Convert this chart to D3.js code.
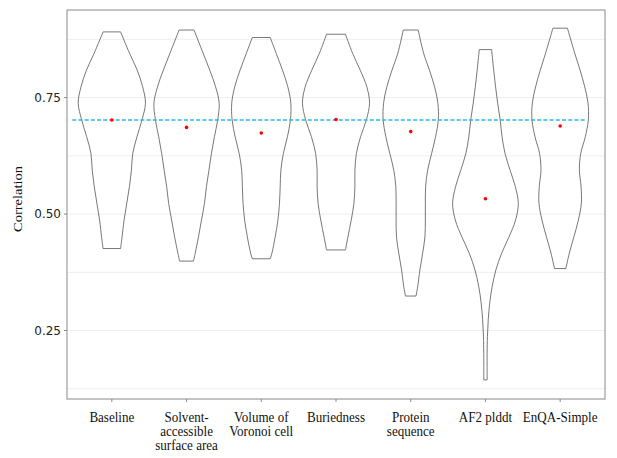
<!DOCTYPE html>
<html lang="en">
<head>
  <meta charset="utf-8">
  <title>Correlation violins</title>
  <script src="https://d3js.org/d3.v7.min.js"></script>
  <style>
    body { margin: 0; background: #fff; }
    .grid line { stroke: #efefef; stroke-width: 1; }
    .violin { fill: none; stroke: #555; stroke-width: 0.8; }
    .tick-label { font-family: "DejaVu Sans", sans-serif; font-size: 12px; fill: #222; }
    .cat-label { font-family: "Liberation Serif", serif; font-size: 14.5px; fill: #111; }
  </style>
</head>
<body>
  <script>
    // categories and their (wrapped) labels
    var categories = ["Baseline", "Solvent-accessible surface area", "Volume of Voronoi cell",
                      "Buriedness", "Protein sequence", "AF2 plddt", "EnQA-Simple"];
    var labelLines = [["Baseline"], ["Solvent-", "accessible", "surface area"], ["Volume of", "Voronoi cell"],
                      ["Buriedness"], ["Protein", "sequence"], ["AF2 plddt"], ["EnQA-Simple"]];

    // mean correlation per category (red dots) and baseline reference (dashed line)
    var means = [0.702, 0.686, 0.674, 0.703, 0.677, 0.533, 0.689];
    var refValue = 0.702;

    var yTicks = [0.25, 0.50, 0.75];
    var yMinor = [0.125, 0.375, 0.625, 0.875];

    // violin outlines: correlation level -> relative density
    var baselineCorr = [0.891, 0.845, 0.809, 0.773, 0.738, 0.702, 0.666, 0.630, 0.594, 0.559, 0.523, 0.487, 0.451, 0.426];
    var baselineDens = [0.88, 1.78, 2.55, 3.10, 3.38, 3.03, 2.53, 2.10, 1.97, 1.77, 1.50, 1.23, 1.03, 0.88];

    var solventCorr = [0.895, 0.845, 0.809, 0.773, 0.738, 0.702, 0.666, 0.630, 0.594, 0.559, 0.523, 0.487, 0.451, 0.416, 0.399];
    var solventDens = [0.75, 1.67, 2.33, 2.92, 3.28, 3.13, 2.80, 2.50, 2.25, 2.00, 1.80, 1.50, 1.20, 0.87, 0.70];

    var voronoiCorr = [0.879, 0.845, 0.809, 0.773, 0.738, 0.702, 0.666, 0.630, 0.594, 0.559, 0.523, 0.487, 0.451, 0.416, 0.404];
    var voronoiDens = [0.90, 1.50, 2.13, 2.67, 2.97, 2.93, 2.63, 2.22, 1.97, 1.90, 1.83, 1.67, 1.40, 1.07, 0.90];

    var buriedCorr = [0.886, 0.845, 0.809, 0.773, 0.738, 0.702, 0.666, 0.630, 0.594, 0.559, 0.523, 0.487, 0.451, 0.423];
    var buriedDens = [0.95, 1.67, 2.43, 3.10, 3.37, 3.05, 2.47, 2.05, 1.90, 1.90, 1.80, 1.53, 1.20, 0.95];

    var proteinCorr = [0.895, 0.845, 0.809, 0.773, 0.738, 0.702, 0.666, 0.630, 0.594, 0.559, 0.523, 0.487, 0.451, 0.416, 0.380, 0.344, 0.324];
    var proteinDens = [0.75, 1.30, 1.88, 2.40, 2.73, 2.77, 2.50, 2.10, 1.70, 1.50, 1.47, 1.47, 1.43, 1.20, 0.92, 0.70, 0.53];

    var af2Corr = [0.853, 0.809, 0.773, 0.738, 0.702, 0.666, 0.630, 0.594, 0.559, 0.523, 0.487, 0.451, 0.416, 0.380, 0.344, 0.309, 0.273, 0.237, 0.201, 0.144];
    var af2Dens = [0.62, 0.83, 1.02, 1.23, 1.48, 1.67, 1.97, 2.48, 3.00, 3.30, 3.03, 2.37, 1.63, 1.05, 0.67, 0.43, 0.28, 0.20, 0.17, 0.17];

    var enqaCorr = [0.899, 0.845, 0.809, 0.773, 0.738, 0.702, 0.666, 0.630, 0.594, 0.559, 0.523, 0.487, 0.451, 0.416, 0.383];
    var enqaDens = [0.73, 1.47, 2.00, 2.47, 2.80, 2.83, 2.53, 2.07, 1.93, 2.10, 2.13, 1.83, 1.38, 0.92, 0.57];

    var violinCorr = [baselineCorr, solventCorr, voronoiCorr, buriedCorr, proteinCorr, af2Corr, enqaCorr];
    var violinDens = [baselineDens, solventDens, voronoiDens, buriedDens, proteinDens, af2Dens, enqaDens];

    var width = 617, height = 458;
    var panel = { left: 67, right: 605, top: 10, bottom: 399 };

    var svg = d3.select("body").append("svg")
      .attr("width", width)
      .attr("height", height);

    var x = d3.scalePoint()
      .domain(categories)
      .range([panel.left, panel.right])
      .padding(0.6);
    var step = x.step();

    var y = d3.scaleLinear()
      .domain([0.103, 0.938])
      .range([panel.bottom, panel.top]);

    var maxDens = d3.max(violinDens, function(d) { return d3.max(d); });
    var w = d3.scaleLinear().domain([0, maxDens]).range([0, step * 0.45]);

    // grid
    var grid = svg.append("g").attr("class", "grid");
    grid.selectAll("line")
      .data(yMinor.concat(yTicks))
      .enter().append("line")
      .attr("x1", panel.left).attr("x2", panel.right)
      .attr("y1", function(d) { return y(d); })
      .attr("y2", function(d) { return y(d); });

    // violins
    var area = d3.area()
      .curve(d3.curveCatmullRom)
      .y(function(d) { return y(d.v); });

    categories.forEach(function(c, i) {
      var pts = violinCorr[i].map(function(v, j) { return { v: v, d: violinDens[i][j] }; });
      var cx = x(c);
      svg.append("path")
        .datum(pts)
        .attr("class", "violin")
        .attr("d", area
          .x0(function(d) { return cx - w(d.d); })
          .x1(function(d) { return cx + w(d.d); }));
    });

    // reference dashed line
    svg.append("line")
      .attr("x1", x(categories[0]) - 0.53 * step)
      .attr("x2", x(categories[categories.length - 1]) + 0.33 * step)
      .attr("y1", y(refValue)).attr("y2", y(refValue))
      .attr("stroke", "#2cb5e9")
      .attr("stroke-width", 1.6)
      .attr("stroke-dasharray", "4,2.2");

    // mean dots
    svg.append("g").selectAll("circle")
      .data(means)
      .enter().append("circle")
      .attr("cx", function(d, i) { return x(categories[i]); })
      .attr("cy", function(d) { return y(d); })
      .attr("r", 1.8)
      .attr("fill", "#ff0000");

    // panel border
    svg.append("rect")
      .attr("x", panel.left).attr("y", panel.top)
      .attr("width", panel.right - panel.left)
      .attr("height", panel.bottom - panel.top)
      .attr("fill", "none")
      .attr("stroke", "#8a8a8a")
      .attr("stroke-width", 1);

    // y axis ticks + labels
    var yAxis = svg.append("g");
    yAxis.selectAll("line")
      .data(yTicks)
      .enter().append("line")
      .attr("x1", panel.left - 3).attr("x2", panel.left)
      .attr("y1", function(d) { return y(d); })
      .attr("y2", function(d) { return y(d); })
      .attr("stroke", "#8a8a8a");
    yAxis.selectAll("text")
      .data(yTicks)
      .enter().append("text")
      .attr("class", "tick-label")
      .attr("x", panel.left - 6)
      .attr("y", function(d) { return y(d); })
      .attr("dy", "0.36em")
      .attr("text-anchor", "end")
      .text(d3.format(".2f"));

    // x axis ticks
    svg.append("g").selectAll("line")
      .data(categories)
      .enter().append("line")
      .attr("x1", function(d) { return x(d); })
      .attr("x2", function(d) { return x(d); })
      .attr("y1", panel.bottom).attr("y2", panel.bottom + 3)
      .attr("stroke", "#8a8a8a");

    // x labels (serif, slightly condensed like the source image)
    categories.forEach(function(c, i) {
      var t = svg.append("text")
        .attr("class", "cat-label")
        .attr("text-anchor", "middle")
        .attr("transform", "translate(" + x(c) + ",422) scale(0.9,1)");
      labelLines[i].forEach(function(line, k) {
        t.append("tspan")
          .attr("x", 0)
          .attr("y", k * 14)
          .text(line);
      });
    });

    // y title
    svg.append("text")
      .attr("class", "cat-label")
      .attr("text-anchor", "middle")
      .attr("transform", "translate(22,199) rotate(-90) scale(1,0.9)")
      .text("Correlation");
  </script>
</body>
</html>
